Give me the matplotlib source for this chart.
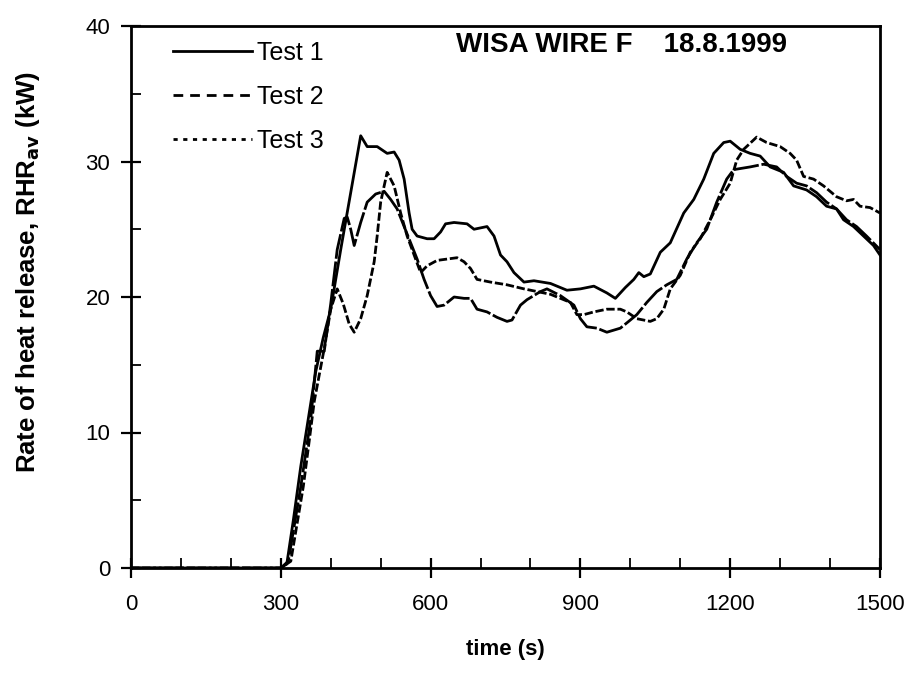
import matplotlib
matplotlib.use("Agg")
import matplotlib.pyplot as plt
from matplotlib.ticker import MultipleLocator
from matplotlib.lines import Line2D

plt.rcParams['font.family'] = ['Liberation Sans', 'DejaVu Sans']

# ---- data ----
t1 = [0, 100, 200, 300, 312, 325, 340, 355, 370, 385, 400, 420, 440, 460, 473, 493, 513,
      527, 537, 547, 557, 563, 573, 593, 607, 620, 630, 647, 673, 687, 700, 713, 727, 740,
      753, 767, 787, 807, 840, 873, 900, 927, 953, 970, 990, 1007, 1017, 1027, 1040, 1060,
      1080, 1107, 1127, 1147, 1167, 1187, 1200, 1220, 1240, 1260, 1280, 1307, 1327, 1353,
      1373, 1393, 1413, 1427, 1447, 1467, 1487, 1500]
v1 = [0, 0, 0, 0, 0.3, 3.5, 7.5, 11.0, 14.5, 17.0, 19.1, 23.5, 27.7, 31.9, 31.1, 31.1, 30.6,
      30.7, 30.1, 28.7, 26.2, 25.0, 24.5, 24.3, 24.3, 24.8, 25.4, 25.5, 25.4, 25.0, 25.1, 25.2,
      24.5, 23.1, 22.6, 21.8, 21.1, 21.2, 21.0, 20.5, 20.6, 20.8, 20.3, 19.9, 20.7, 21.3, 21.8,
      21.5, 21.7, 23.3, 24.0, 26.2, 27.2, 28.7, 30.6, 31.4, 31.5, 30.9, 30.6, 30.4, 29.6, 29.2,
      28.2, 27.9, 27.4, 26.7, 26.5, 25.7, 25.2, 24.5, 23.8, 23.1]

t2 = [0, 100, 200, 300, 315, 340, 360, 373, 387, 400, 413, 427, 433, 440, 447, 460, 473, 490,
      507, 520, 533, 547, 560, 573, 587, 600, 613, 627, 647, 667, 680, 693, 713, 733, 753, 763,
      780, 793, 820, 833, 860, 887, 900, 913, 933, 953, 980, 1000, 1013, 1033, 1053, 1073,
      1093, 1113, 1133, 1153, 1173, 1193, 1207, 1240, 1267, 1293, 1313, 1333, 1353, 1373,
      1393, 1413, 1433, 1453, 1473, 1500]
v2 = [0, 0, 0, 0, 0.5, 6.0, 11.0, 16.0, 16.0, 19.5, 23.5, 25.8, 25.9, 25.0, 23.8, 25.5, 27.0,
      27.6, 27.8, 27.2, 26.5, 25.2, 24.0, 22.8, 21.3, 20.1, 19.3, 19.4, 20.0, 19.9, 19.9, 19.1,
      18.9, 18.5, 18.2, 18.3, 19.4, 19.8, 20.4, 20.6, 20.1, 19.4, 18.4, 17.8, 17.7, 17.4, 17.7,
      18.3, 18.7, 19.6, 20.4, 20.9, 21.3, 22.8, 24.0, 25.0, 27.0, 28.7, 29.4, 29.6, 29.8, 29.6,
      28.9, 28.4, 28.2, 27.7, 27.0, 26.5, 25.7, 25.2, 24.5, 23.5]

t3 = [0, 100, 200, 300, 320, 345, 357, 367, 387, 400, 413, 425, 437, 447, 460, 473, 487, 493,
      500, 507, 513, 527, 540, 553, 567, 580, 593, 613, 633, 653, 667, 680, 693, 720, 753, 787,
      840, 860, 880, 893, 907, 927, 953, 980, 993, 1013, 1040, 1053, 1067, 1080, 1100, 1120,
      1140, 1160, 1180, 1200, 1213, 1227, 1253, 1273, 1300, 1320, 1333, 1347, 1367, 1387,
      1413, 1433, 1447, 1460, 1480, 1500]
v3 = [0, 0, 0, 0, 0.5, 6.0, 9.4, 12.3, 16.2, 19.1, 20.6, 19.5, 18.0, 17.4, 18.4, 20.1, 22.6,
      24.5, 27.0, 28.2, 29.2, 28.2, 26.2, 24.5, 23.1, 21.8, 22.3, 22.7, 22.8, 22.9, 22.6, 22.1,
      21.3, 21.1, 20.9, 20.6, 20.2, 19.9, 19.6, 18.7, 18.7, 18.9, 19.1, 19.1, 18.9, 18.4, 18.2,
      18.4, 19.1, 20.6, 21.6, 23.3, 24.3, 25.7, 27.2, 28.4, 30.1, 30.9, 31.8, 31.4, 31.1, 30.6,
      30.1, 28.9, 28.7, 28.2, 27.4, 27.1, 27.2, 26.7, 26.6, 26.2]

labels = ["Test 1", "Test 2", "Test 3"]
title_text = "WISA WIRE F    18.8.1999"

# ---- figure ----
fig = plt.figure(figsize=(9.12, 6.87), dpi=100)
ax = fig.add_axes([131/912, 1 - 568/687, (880 - 131)/912, (568 - 26)/687])

ax.plot(t1, v1, color='black', lw=2.0, ls='-')
ax.plot(t2, v2, color='black', lw=2.0, ls=(0, (9, 1)))
ax.plot(t3, v3, color='black', lw=2.0, ls=(0, (3, 1)))

ax.set_xlim(0, 1500)
ax.set_ylim(0, 40)
ax.xaxis.set_major_locator(MultipleLocator(300))
ax.xaxis.set_minor_locator(MultipleLocator(100))
ax.yaxis.set_major_locator(MultipleLocator(10))
ax.yaxis.set_minor_locator(MultipleLocator(5))
ax.tick_params(which='major', direction='inout', length=14, width=1.6,
               labelsize=16, top=False, right=False)
ax.tick_params(axis='x', which='major', pad=12)
ax.tick_params(axis='y', which='major', pad=8)
ax.tick_params(which='minor', direction='in', length=7, width=1.3,
               top=False, right=False)
for s in ax.spines.values():
    s.set_linewidth(2)

ax.set_xlabel("time (s)", fontsize=16, fontweight='bold')
ax.xaxis.set_label_coords(0.5, -0.131)
ax.set_ylabel("Rate of heat release, RHR$_{\\mathbf{av}}$ (kW)", fontsize=18.5,
              fontweight='bold')
ax.yaxis.set_label_coords(-0.119, 0.546)

ax.text(0.655, 0.989, title_text, transform=ax.transAxes, ha='center', va='top',
        fontsize=20, fontweight='bold')

handles = [
    Line2D([], [], color='black', lw=2.0, ls='-'),
    Line2D([], [], color='black', lw=2.0, ls=(0, (3.5, 2.5))),
    Line2D([], [], color='black', lw=2.0, ls=(0, (1.5, 2.0))),
]
ax.legend(handles, labels, loc='upper left', bbox_to_anchor=(0.033, 1.0055),
          frameon=False, fontsize=18, handlelength=3.16, handletextpad=0.2,
          labelspacing=0.8, borderaxespad=0.3)

fig.savefig("out.png", dpi=100)
